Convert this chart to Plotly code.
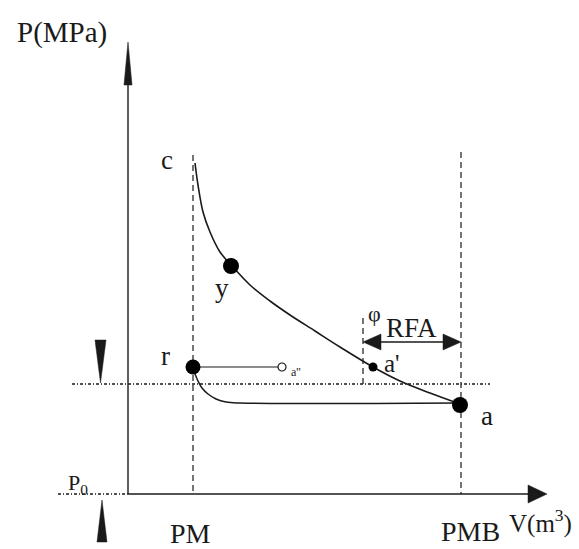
import plotly.graph_objects as go

# Canvas coordinates: V runs left->right, P runs top->bottom (screen-like units)
W, H = 579, 549
INK = "#1a1a1a"
FONT = "Times New Roman"

# Axes of the P-V diagram
p_axis_v = 128          # position of the pressure axis
v_axis_p = 494          # position of the volume axis (P0 level)
p_axis_top = 85         # where the pressure arrow head starts
v_axis_end = 528        # where the volume arrow head starts

# Characteristic volumes
v_pm = 193              # PM (top dead centre)
v_pmb = 461             # PMB (bottom dead centre)
v_rfa = 363             # start of intake-valve closing delay

# Atmospheric / reference pressure line (dash-dot)
ref_level = 384
ref_start, ref_end = 72, 490

# Expansion curve c -> y -> a' -> a
exp_v = [195, 198, 203, 210, 220, 232, 250, 270, 290, 315, 340, 373, 400, 430, 460]
exp_p = [163, 185, 212, 232, 252, 266, 285, 301, 315, 331, 347, 367, 381, 393, 404]

# Exhaust / intake line r -> a
low_v = [195, 198, 202, 208, 216, 226, 240, 460]
low_p = [374, 381, 388, 394, 399, 402, 403, 403]

# Residual-gas line r -> a''
res_v = [193, 282]
res_p = [367, 367]

# Characteristic points
pt_names = ["y", "r", "a", "a'"]
pt_v = [231, 193, 460, 373]
pt_p = [266, 367, 405, 367]
pt_size = [16, 15, 16, 9]

fig = go.Figure()


def line(xs, ys, width=1.3, dash="solid", color=INK, shape="linear"):
    fig.add_trace(go.Scatter(x=xs, y=ys, mode="lines", hoverinfo="skip",
                             line=dict(color=color, width=width, dash=dash,
                                       shape=shape)))


def tri(xs, ys):
    fig.add_trace(go.Scatter(x=xs + [xs[0]], y=ys + [ys[0]], mode="lines",
                             fill="toself", fillcolor=INK, hoverinfo="skip",
                             line=dict(color=INK, width=0.5)))


# Axes
line([p_axis_v, p_axis_v], [v_axis_p, p_axis_top], width=1.4)
line([p_axis_v, v_axis_end], [v_axis_p, v_axis_p], width=1.4)
line([58, p_axis_v], [v_axis_p, v_axis_p], width=1.3, dash="3px,2px,1px,2px")
tri([p_axis_v - 4, p_axis_v + 4, p_axis_v], [p_axis_top, p_axis_top, 42])
tri([v_axis_end, v_axis_end, 547], [485, 503, v_axis_p])

# Reference dash-dot line
line([ref_start, ref_end], [ref_level, ref_level], width=1.3, dash="3px,2px,1px,2px")

# Dashed verticals
line([v_pm, v_pm], [155, v_axis_p], width=1.2, dash="6px,4px")
line([v_pmb, v_pmb], [152, v_axis_p], width=1.2, dash="6px,4px")
line([v_rfa, v_rfa], [318, ref_level], width=1.2, dash="6px,4px")

# phi_RFA double arrow
line([v_rfa + 14, v_pmb - 14], [342, 342], width=1.3)
tri([v_rfa, v_rfa + 18, v_rfa + 18], [342, 334, 350])
tri([v_pmb, v_pmb - 18, v_pmb - 18], [342, 334, 350])

# Level markers on the left
tri([95, 106, 100.5], [340, 340, 383])
tri([97, 107, 102], [542, 542, 500])

# Cycle curves
line(exp_v, exp_p, width=1.6, shape="spline")
line(low_v, low_p, width=1.5, shape="spline")
line(res_v, res_p, width=1.2)

# Points (array sizes would otherwise default to bubble opacity)
fig.add_trace(go.Scatter(x=pt_v, y=pt_p, mode="markers", hoverinfo="skip",
                         marker=dict(size=pt_size, color="#000000", opacity=1,
                                     line=dict(width=0))))
fig.add_trace(go.Scatter(x=[res_v[1]], y=[res_p[1]], mode="markers", hoverinfo="skip",
                         marker=dict(size=8, color="white", opacity=1,
                                     line=dict(width=1.2, color=INK))))

# Labels
labels = [
    ("P(MPa)", 62, 32, 29),
    ("c", 167, 160, 27),
    ("y", 222, 288, 27),
    ("r", 165, 356, 27),
    ("a", 487, 416, 27),
    ("a'", 392, 363, 25),
    ("a''", 296, 372, 12),
    ("φ", 374, 313, 22),
    ("RFA", 411, 328, 27),
    ("P<sub>0</sub>", 78, 484, 22),
    ("PM", 190, 533, 28),
    ("PMB", 470, 531, 28),
    ("V(m<sup>3</sup>)", 540, 521, 25),
]
for text, x, y, size in labels:
    fig.add_annotation(x=x, y=y, text=text, showarrow=False,
                       xanchor="center", yanchor="middle",
                       font=dict(family=FONT, size=size, color=INK))

fig.update_layout(
    width=W, height=H,
    margin=dict(l=0, r=0, t=0, b=0),
    paper_bgcolor="white", plot_bgcolor="white",
    showlegend=False,
    font=dict(family=FONT),
    xaxis=dict(range=[0, W], visible=False, fixedrange=True),
    yaxis=dict(range=[H, 0], visible=False, fixedrange=True),
)

fig.write_html("out.html", config={"displayModeBar": False})
